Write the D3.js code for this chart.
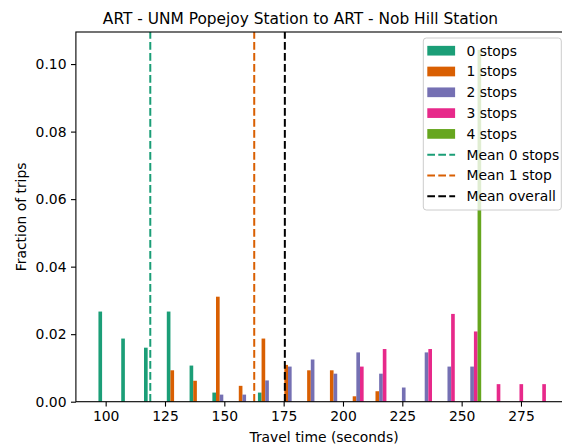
<!DOCTYPE html>
<html><head><meta charset="utf-8">
<script src="https://cdn.jsdelivr.net/npm/d3@7"></script>
<style>body{margin:0;background:#fff}svg{display:block}text{font-family:"DejaVu Sans",sans-serif}</style>
</head><body><svg id="c" width="562" height="445"></svg>
<script>
// Histogram bin centers (seconds), bin width 9.6 s
const binCenters = [100.8,110.4,120.0,129.6,139.2,148.8,158.4,168.0,177.6,187.2,196.8,206.4,216.0,225.6,235.2,244.8,254.4,264.0,273.6,283.2];
const binWidth = 9.6;
const seriesNames = ["0 stops","1 stops","2 stops","3 stops","4 stops"];
const stops0 = [0.0267,0.0187,0.0160,0.0267,0.0107,0.0027,0,0.0027,0,0,0,0,0,0,0,0,0,0,0,0];
const stops1 = [0,0,0,0.0093,0.0062,0.0311,0.0047,0.0187,0.0109,0.0093,0.0093,0.0016,0.0031,0,0,0,0,0,0,0];
const stops2 = [0,0,0,0,0,0.0021,0.0021,0.0063,0.0104,0.0125,0.0083,0.0146,0.0083,0.0042,0.0146,0.0104,0.0104,0,0,0];
const stops3 = [0,0,0,0,0,0,0,0,0,0,0,0.0104,0.0156,0,0.0156,0.0260,0.0208,0.0052,0.0052,0.0052];
const stops4 = [0,0,0,0,0,0,0,0,0,0,0,0,0,0,0,0,0.1042,0,0,0];
const meanNames = ["Mean 0 stops","Mean 1 stop","Mean overall"];
const meanValues = [118.8, 162.6, 175.5];
const xTicks = [100,125,150,175,200,225,250,275];
const yTicks = [0,0.02,0.04,0.06,0.08,0.10];
const xDomain = [87.46, 296.54];
const yDomain = [0, 0.1095];

const colors = ["#1b9e77","#d95f02","#7570b3","#e7298a","#66a61e"];
const meanColors = ["#1b9e77","#d95f02","#000000"];
const series = [stops0,stops1,stops2,stops3,stops4];

const svg = d3.select("#c");
const L = 75.9, R = 572.1, T = 32, B = 401.7;
const x = d3.scaleLinear().domain(xDomain).range([L, R]);
const y = d3.scaleLinear().domain(yDomain).range([B, T]);
const FS = 13.9;

const plot = svg.append("g");
// bars (matplotlib side-by-side hist layout)
const n = series.length, dr = 0.8;
const dw = dr * binWidth / n;
const boff = -0.5 * dr * binWidth * (1 - 1/n);
series.forEach((vals, i) => {
  plot.append("g").selectAll("rect")
    .data(vals.map((v, k) => ({v, c: binCenters[k]})).filter(d => d.v > 0))
    .join("rect")
    .attr("x", d => x(d.c + boff + i*dw - dw/2))
    .attr("width", d => x(d.c + boff + i*dw + dw/2) - x(d.c + boff + i*dw - dw/2))
    .attr("y", d => y(d.v))
    .attr("height", d => y(0) - y(d.v))
    .attr("fill", colors[i]);
});
// mean lines
meanValues.forEach((m, i) => {
  plot.append("line")
    .attr("x1", x(m)).attr("x2", x(m)).attr("y1", B).attr("y2", T)
    .attr("stroke", meanColors[i]).attr("stroke-width", 2)
    .attr("stroke-dasharray", "7.7,3.3");
});

// axes
const xAxis = d3.axisBottom(x).tickValues(xTicks).tickSize(4.9).tickPadding(4.5).tickFormat(d3.format("d"));
const gx = svg.append("g").attr("transform", `translate(0,${B})`).call(xAxis);
const yAxis = d3.axisLeft(y).tickValues(yTicks).tickSize(4.9).tickPadding(4.5).tickFormat(d3.format(".2f"));
const gy = svg.append("g").attr("transform", `translate(${L},0)`).call(yAxis);
[gx, gy].forEach(g => {
  g.select(".domain").remove();
  g.selectAll(".tick line").attr("stroke", "#000").attr("stroke-width", 1.1);
  g.selectAll(".tick text").attr("fill", "#000").style("font-size", FS + "px").style("font-family", "DejaVu Sans");
});
// spines
svg.append("rect").attr("x", L).attr("y", T).attr("width", R - L).attr("height", B - T)
  .attr("fill", "none").attr("stroke", "#000").attr("stroke-width", 1.1);

// labels
svg.append("text").attr("x", 300.5).attr("y", 24).attr("text-anchor", "middle")
  .style("font-size", "15.4px").attr("fill", "#000")
  .text("ART - UNM Popejoy Station to ART - Nob Hill Station");
svg.append("text").attr("x", (L + R) / 2).attr("y", 442).attr("text-anchor", "middle")
  .style("font-size", FS + "px").attr("fill", "#000").text("Travel time (seconds)");
svg.append("text").attr("transform", `translate(25.5,${(T + B) / 2}) rotate(-90)`).attr("text-anchor", "middle")
  .style("font-size", FS + "px").attr("fill", "#000").text("Fraction of trips");

// legend
const lg = svg.append("g");
lg.append("rect").attr("x", 423.3).attr("y", 38).attr("width", 138).attr("height", 172).attr("rx", 3)
  .attr("fill", "#fff").attr("fill-opacity", 0.8).attr("stroke", "#cccccc").attr("stroke-width", 1);
const rowY = d3.range(8).map(i => 50.7 + i * 20.8);
seriesNames.forEach((name, i) => {
  lg.append("rect").attr("x", 427.3).attr("y", rowY[i] - 4.85).attr("width", 27.8).attr("height", 9.7).attr("fill", colors[i]);
  lg.append("text").attr("x", 466.4).attr("y", rowY[i]).attr("dy", "0.35em").style("font-size", FS + "px").text(name);
});
meanNames.forEach((name, j) => {
  const ry = rowY[5 + j];
  lg.append("line").attr("x1", 427.3).attr("x2", 455.1).attr("y1", ry).attr("y2", ry)
    .attr("stroke", meanColors[j]).attr("stroke-width", 2).attr("stroke-dasharray", "7.7,3.3");
  lg.append("text").attr("x", 466.4).attr("y", ry).attr("dy", "0.35em").style("font-size", FS + "px").text(name);
});
</script></body></html>
